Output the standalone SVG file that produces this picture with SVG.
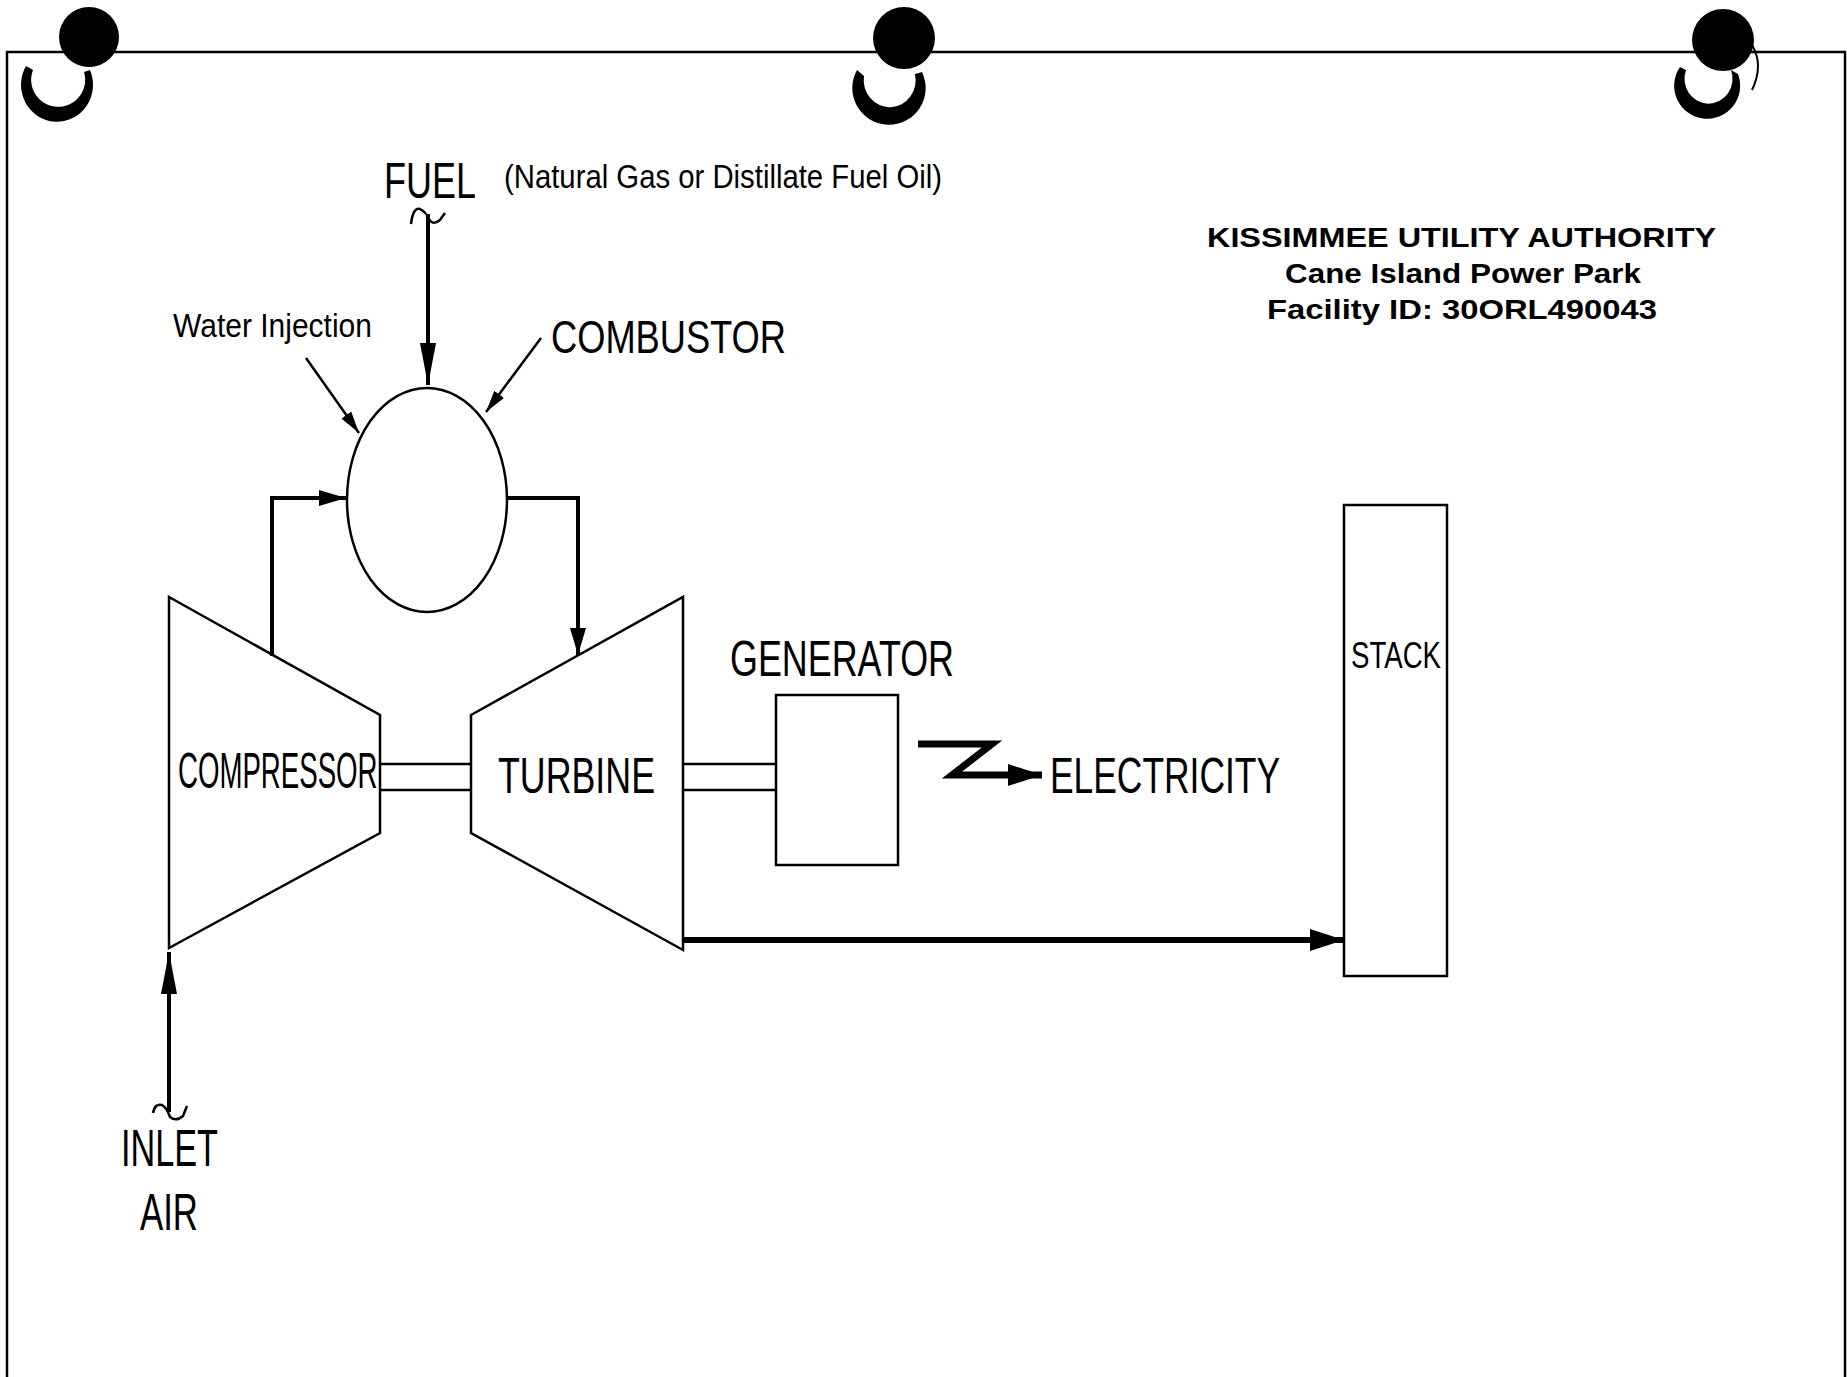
<svg xmlns="http://www.w3.org/2000/svg" width="1847" height="1377" viewBox="0 0 1847 1377">
<defs>
<style>
.ln{fill:none;stroke:#000;stroke-width:2.5}
.th{fill:none;stroke:#000;stroke-width:4}
.lbl{font-family:"Liberation Sans",Arial,sans-serif;fill:#000}
.ttl{font-family:"Liberation Sans",Arial,sans-serif;font-weight:bold;fill:#000}
.ink{fill:#000;fill-rule:evenodd}
</style>
<marker id="arrL" markerUnits="userSpaceOnUse" markerWidth="42" markerHeight="18" refX="42" refY="9" orient="auto"><path d="M0,1 L42,9 L0,17 z" fill="#000"/></marker>
<marker id="arrM" markerUnits="userSpaceOnUse" markerWidth="27" markerHeight="18" refX="27" refY="9" orient="auto"><path d="M0,1 L27,9 L0,17 z" fill="#000"/></marker>
<marker id="arrS" markerUnits="userSpaceOnUse" markerWidth="22" markerHeight="12" refX="22" refY="6" orient="auto"><path d="M0,0 L22,6 L0,12 z" fill="#000"/></marker>
<marker id="arrX" markerUnits="userSpaceOnUse" markerWidth="34" markerHeight="22" refX="34" refY="11" orient="auto"><path d="M0,0 L34,11 L0,22 z" fill="#000"/></marker>
</defs>
<rect x="0" y="0" width="1847" height="1377" fill="#fff"/>

<g id="page-frame">
<polyline class="ln" points="7,1377 7,52 1845,52 1845,1377" stroke-width="2.5"/>
</g>

<g id="binder-holes">
<circle class="ink" cx="89" cy="37" r="30"/>
<path class="ink" d="M26,66 A36,37 0 1 0 90,70 L84,72 A27,27 0 1 1 33,70 Z"/>
<circle class="ink" cx="904" cy="38" r="31"/>
<path class="ink" d="M857,70 A36.7,36.7 0 1 0 922,72 L915,74 A26,27 0 1 1 864,76 Z"/>
<circle class="ink" cx="1723" cy="40" r="31"/>
<path class="ink" d="M1680,67 A33,33 0 1 0 1738,74 L1731,70 A24,25 0 1 1 1686,70 Z"/>
<path d="M1752,45 Q1764,65 1752,90" fill="none" stroke="#000" stroke-width="2"/>
</g>

<g id="combustor">
<ellipse class="ln" cx="427" cy="500" rx="80" ry="112"/>
<text class="lbl" x="551" y="353" font-size="47" textLength="235" lengthAdjust="spacingAndGlyphs">COMBUSTOR</text>
</g>

<g id="compressor">
<polygon class="ln" points="169,597 380,715 380,833 169,948"/>
<text class="lbl" transform="translate(178,788) scale(0.5527,1)" x="0" y="0" font-size="50">COMPRESSOR</text>
</g>

<g id="turbine">
<polygon class="ln" points="471,715 683,597 683,950 471,833"/>
<text class="lbl" x="498" y="793" font-size="50" textLength="157" lengthAdjust="spacingAndGlyphs">TURBINE</text>
</g>

<g id="generator">
<rect class="ln" x="776" y="695" width="122" height="170"/>
<text class="lbl" x="730" y="676" font-size="50" textLength="224" lengthAdjust="spacingAndGlyphs">GENERATOR</text>
</g>

<g id="stack">
<rect class="ln" x="1344" y="505" width="103" height="471" stroke-width="3"/>
<text class="lbl" x="1351" y="668" font-size="36" textLength="90" lengthAdjust="spacingAndGlyphs">STACK</text>
</g>

<g id="fuel">
<text class="lbl" x="384" y="198" font-size="50" textLength="92" lengthAdjust="spacingAndGlyphs">FUEL</text>
<text class="lbl" x="504" y="188" font-size="33" textLength="438" lengthAdjust="spacingAndGlyphs">(Natural Gas or Distillate Fuel Oil)</text>
</g>

<g id="water-injection">
<text class="lbl" x="173" y="337" font-size="33" textLength="199" lengthAdjust="spacingAndGlyphs">Water Injection</text>
</g>

<g id="electricity">
<text class="lbl" x="1050" y="793" font-size="50" textLength="230" lengthAdjust="spacingAndGlyphs">ELECTRICITY</text>
</g>

<g id="inlet-air">
<text class="lbl" x="121" y="1166" font-size="51" textLength="97" lengthAdjust="spacingAndGlyphs">INLET</text>
<text class="lbl" x="140" y="1230" font-size="51" textLength="58" lengthAdjust="spacingAndGlyphs">AIR</text>
</g>

<g id="title-block">
<text class="ttl" x="1207" y="247" font-size="28" textLength="509" lengthAdjust="spacingAndGlyphs">KISSIMMEE UTILITY AUTHORITY</text>
<text class="ttl" x="1285" y="283" font-size="28" textLength="356" lengthAdjust="spacingAndGlyphs">Cane Island Power Park</text>
<text class="ttl" x="1267" y="319" font-size="28" textLength="390" lengthAdjust="spacingAndGlyphs">Facility ID: 30ORL490043</text>
</g>

<g id="connectors">
<line class="th" x1="428" y1="214" x2="428" y2="385" marker-end="url(#arrL)"/>
<path class="ln" d="M411,224 Q413,207 420,209 Q426,212 429,219 Q433,226 440,220 L445,213"/>
<polyline class="th" points="272,656 272,498 346,498" marker-end="url(#arrM)"/>
<polyline class="th" points="507,498 578,498 578,655" marker-end="url(#arrM)"/>
<line class="ln" x1="306" y1="358" x2="359" y2="433" marker-end="url(#arrS)"/>
<line class="ln" x1="541" y1="338" x2="486" y2="412" marker-end="url(#arrS)"/>
<line class="ln" x1="380" y1="764" x2="471" y2="764"/>
<line class="ln" x1="380" y1="790" x2="471" y2="790"/>
<line class="ln" x1="683" y1="764" x2="776" y2="764"/>
<line class="ln" x1="683" y1="790" x2="776" y2="790"/>
<line x1="683" y1="940" x2="1344" y2="940" stroke="#000" stroke-width="6" marker-end="url(#arrX)"/>
<polyline points="918,744 992,744 952,775 1042,775" fill="none" stroke="#000" stroke-width="7" stroke-linejoin="miter" marker-end="url(#arrX)"/>
<line class="th" x1="169" y1="1112" x2="169" y2="952" marker-end="url(#arrL)"/>
<path class="ln" d="M153,1113 Q155,1103 162,1105 Q167,1108 170,1117 Q176,1122 183,1116 L187,1106"/>
</g>
</svg>
